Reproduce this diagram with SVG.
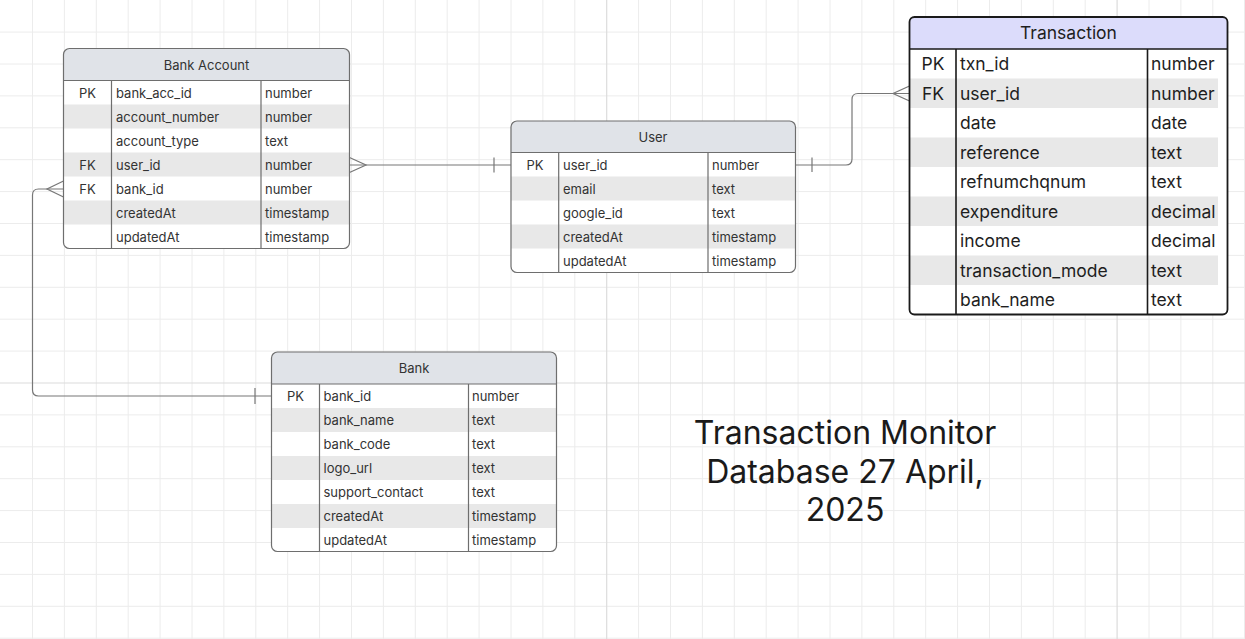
<svg xmlns="http://www.w3.org/2000/svg" width="1245" height="639" viewBox="0 0 1245 639">
<style>
.grid{stroke:#ececec;stroke-width:1;fill:none}
.gridM{stroke:#dcdcdc;stroke-width:1.2;fill:none}
.hdr{fill:#e0e3e8}
.shade{fill:#e8e8e8}
.frame{fill:none;stroke:#6e6e6e;stroke-width:1.2}
.div{stroke:#6e6e6e;stroke-width:1.2}
.t{font-family:Inter,"Liberation Sans",Arial,sans-serif;font-size:13px;fill:#333}
.th{font-family:Inter,"Liberation Sans",Arial,sans-serif;font-size:13px;fill:#333;text-anchor:middle}
.k{text-anchor:middle}
.tx{font-family:Inter,"Liberation Sans",Arial,sans-serif;font-size:17.5px;fill:#1e1e1e}
.txh{font-family:Inter,"Liberation Sans",Arial,sans-serif;font-size:17.5px;fill:#1e1e1e;text-anchor:middle}
.hdrT{fill:#dcdcfb}
.frameT{fill:none;stroke:#1a1a1a;stroke-width:1.8}
.divT{stroke:#1a1a1a;stroke-width:1.6}
.conn{fill:none;stroke:#777;stroke-width:1.2}
.title{font-family:Inter,"Liberation Sans",Arial,sans-serif;font-size:32px;fill:#1a1a1a;text-anchor:middle}
</style>
<rect width="1245" height="639" fill="#fff"/>
<g id="grid">
<path class="grid" d="M32.5,0V639M64.4,0V639M96.3,0V639M128.2,0V639M160.1,0V639M192,0V639M223.9,0V639M255.8,0V639M287.7,0V639M319.6,0V639M351.5,0V639M383.4,0V639M415.3,0V639M447.2,0V639M479.1,0V639M511,0V639M542.9,0V639M574.8,0V639M638.6,0V639M670.5,0V639M702.4,0V639M734.3,0V639M766.2,0V639M798.1,0V639M830,0V639M861.9,0V639M893.8,0V639M925.7,0V639M957.6,0V639M989.5,0V639M1021.4,0V639M1053.3,0V639M1085.2,0V639M1149,0V639M1180.9,0V639M1212.8,0V639M1244.5,0V639"/>
<path class="grid" d="M0,32.1H1245M0,64H1245M0,95.9H1245M0,127.8H1245M0,159.7H1245M0,191.6H1245M0,223.5H1245M0,255.4H1245M0,287.3H1245M0,319.2H1245M0,351.1H1245M0,414.9H1245M0,446.8H1245M0,478.7H1245M0,510.6H1245M0,542.5H1245M0,574.4H1245M0,606.3H1245M0,638.2H1245"/>
<path class="gridM" d="M606.7,0V639M1117.1,0V639M0,383H1245"/>
</g>
<g id="connectors">
<path class="conn" d="M349.5,165H511"/>
<path class="conn" d="M349.5,157.5L366,165L349.5,172.5"/>
<path class="conn" d="M494,157.5V172.5"/>
<path class="conn" d="M795.5,165H846Q852,165 852,159V99.5Q852,93.5 858,93.5H909.5"/>
<path class="conn" d="M812,157.5V172"/>
<path class="conn" d="M909.5,86L893,93.5L909.5,101"/>
<path class="conn" d="M63.5,189H38.5Q32.5,189 32.5,195V390Q32.5,396 38.5,396H271.5"/>
<path class="conn" d="M63.5,181L47,189L63.5,197"/>
<path class="conn" d="M255,388V404"/>
</g>
<g id="bank-account">
<rect x="63.5" y="48.5" width="286" height="200" rx="6" fill="#fff"/>
<path class="hdr" d="M63.5,54.5a6,6 0 0 1 6,-6h274a6,6 0 0 1 6,6v26h-286z"/>
<rect class="shade" x="63.5" y="104.5" width="286" height="24"/>
<rect class="shade" x="63.5" y="152.5" width="286" height="24"/>
<rect class="shade" x="63.5" y="200.5" width="286" height="24"/>
<path class="div" d="M63.5,80.5H349.5M111.5,80.5V248.5M261,80.5V248.5"/>
<rect class="frame" x="63.5" y="48.5" width="286" height="200" rx="6"/>
<text class="th" x="206.5" y="69.5">Bank Account</text>
<g class="t">
<text class="k" x="87.5" y="97.5">PK</text><text x="116" y="97.5">bank_acc_id</text><text x="265" y="97.5">number</text>
<text x="116" y="121.5">account_number</text><text x="265" y="121.5">number</text>
<text x="116" y="145.5">account_type</text><text x="265" y="145.5">text</text>
<text class="k" x="87.5" y="169.5">FK</text><text x="116" y="169.5">user_id</text><text x="265" y="169.5">number</text>
<text class="k" x="87.5" y="193.5">FK</text><text x="116" y="193.5">bank_id</text><text x="265" y="193.5">number</text>
<text x="116" y="217.5">createdAt</text><text x="265" y="217.5">timestamp</text>
<text x="116" y="241.5">updatedAt</text><text x="265" y="241.5">timestamp</text>
</g>
</g>
<g id="user">
<rect x="511" y="121" width="284.5" height="151.5" rx="6" fill="#fff"/>
<path class="hdr" d="M511,127a6,6 0 0 1 6,-6h272.5a6,6 0 0 1 6,6v25.5h-284.5z"/>
<rect class="shade" x="511" y="176.5" width="284.5" height="24"/>
<rect class="shade" x="511" y="224.5" width="284.5" height="24"/>
<path class="div" d="M511,152.5H795.5M558.7,152.5V272.5M708,152.5V272.5"/>
<rect class="frame" x="511" y="121" width="284.5" height="151.5" rx="6"/>
<text class="th" x="653" y="141.5">User</text>
<g class="t">
<text class="k" x="535" y="169.5">PK</text><text x="563" y="169.5">user_id</text><text x="712" y="169.5">number</text>
<text x="563" y="193.5">email</text><text x="712" y="193.5">text</text>
<text x="563" y="217.5">google_id</text><text x="712" y="217.5">text</text>
<text x="563" y="241.5">createdAt</text><text x="712" y="241.5">timestamp</text>
<text x="563" y="265.5">updatedAt</text><text x="712" y="265.5">timestamp</text>
</g>
</g>
<g id="transaction">
<rect x="909.5" y="17" width="318" height="297.5" rx="5" fill="#fff"/>
<path class="hdrT" d="M909.5,22a5,5 0 0 1 5,-5h308a5,5 0 0 1 5,5v27h-318z"/>
<rect class="shade" x="909.5" y="78.5" width="308.5" height="29.5"/>
<rect class="shade" x="909.5" y="137.5" width="308.5" height="29.5"/>
<rect class="shade" x="909.5" y="196.5" width="308.5" height="29.5"/>
<rect class="shade" x="909.5" y="255.5" width="308.5" height="29.5"/>
<path class="divT" d="M909.5,49H1227.5M956,49V314.5M1147.5,49V314.5"/>
<rect class="frameT" x="909.5" y="17" width="318" height="297.5" rx="5"/>
<text class="txh" x="1068.5" y="39">Transaction</text>
<g class="tx">
<text class="k" x="933" y="70">PK</text><text x="960" y="70">txn_id</text><text x="1151" y="70">number</text>
<text class="k" x="933" y="99.5">FK</text><text x="960" y="99.5">user_id</text><text x="1151" y="99.5">number</text>
<text x="960" y="129">date</text><text x="1151" y="129">date</text>
<text x="960" y="158.5">reference</text><text x="1151" y="158.5">text</text>
<text x="960" y="188">refnumchqnum</text><text x="1151" y="188">text</text>
<text x="960" y="217.5">expenditure</text><text x="1151" y="217.5">decimal</text>
<text x="960" y="247">income</text><text x="1151" y="247">decimal</text>
<text x="960" y="276.5">transaction_mode</text><text x="1151" y="276.5">text</text>
<text x="960" y="306">bank_name</text><text x="1151" y="306">text</text>
</g>
</g>
<g id="bank">
<rect x="271.5" y="352" width="285" height="199.5" rx="6" fill="#fff"/>
<path class="hdr" d="M271.5,358a6,6 0 0 1 6,-6h273a6,6 0 0 1 6,6v26h-285z"/>
<rect class="shade" x="271.5" y="408" width="285" height="24"/>
<rect class="shade" x="271.5" y="456" width="285" height="24"/>
<rect class="shade" x="271.5" y="504" width="285" height="24"/>
<path class="div" d="M271.5,384H556.5M319.5,384V551.5M468.5,384V551.5"/>
<rect class="frame" x="271.5" y="352" width="285" height="199.5" rx="6"/>
<text class="th" x="414" y="372.5">Bank</text>
<g class="t">
<text class="k" x="295.5" y="401">PK</text><text x="323.5" y="401">bank_id</text><text x="472" y="401">number</text>
<text x="323.5" y="425">bank_name</text><text x="472" y="425">text</text>
<text x="323.5" y="449">bank_code</text><text x="472" y="449">text</text>
<text x="323.5" y="473">logo_url</text><text x="472" y="473">text</text>
<text x="323.5" y="497">support_contact</text><text x="472" y="497">text</text>
<text x="323.5" y="521">createdAt</text><text x="472" y="521">timestamp</text>
<text x="323.5" y="545">updatedAt</text><text x="472" y="545">timestamp</text>
</g>
</g>
<g id="title">
<text class="title" x="845" y="444">Transaction Monitor</text>
<text class="title" x="845" y="483">Database 27 April,</text>
<text class="title" x="845" y="521">2025</text>
</g>
</svg>
